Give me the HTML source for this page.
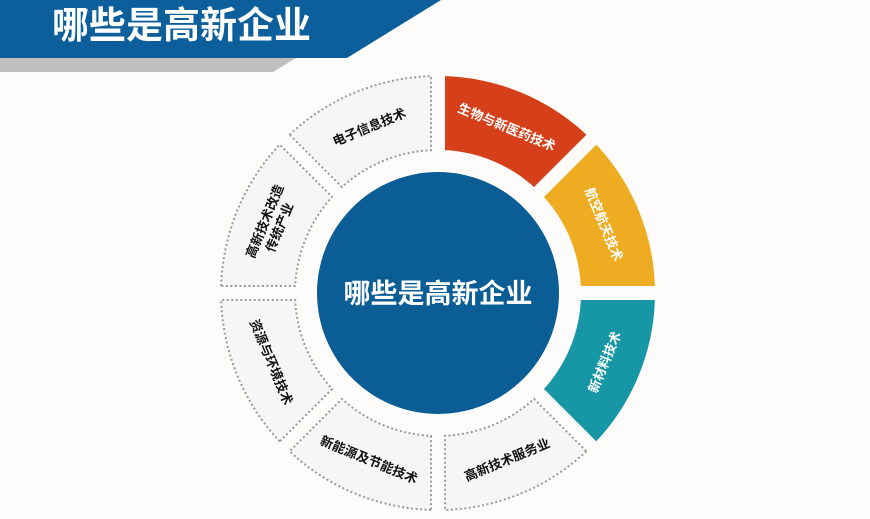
<!DOCTYPE html>
<html><head><meta charset="utf-8"><style>
html,body{margin:0;padding:0;background:#fdfcfb;}
svg{display:block;font-family:"Liberation Sans","Noto Sans CJK SC",sans-serif;}
</style></head><body>
<svg id="s" width="870" height="519" viewBox="0 0 870 519">
<rect width="870" height="519" fill="#fdfcfb"/>
<polygon points="0,58 296,58 273,72 0,72" fill="#bfbfbf"/>
<polygon points="0,0 441,0 347,58 0,58" fill="#0d5f9b"/>
<text x="52" y="38" fill="#fff" font-size="37" font-weight="bold">哪些是高新企业</text>
<circle cx="438" cy="293" r="121" fill="#0b5d96"/>
<text x="438" y="303" fill="#fff" font-size="27" font-weight="bold" text-anchor="middle">哪些是高新企业</text>
<g id="segs"></g>
</svg>
<script>
var cx=438,cy=293,ro=217,ri=143,g=7;
var segs=[
 ["电子信息技术","#f6f6f6",0],
 ["生物与新医药技术","#d5401a",1],
 ["航空航天技术","#eeac22",1],
 ["新材料技术","#1797a6",1],
 ["高新技术服务业","#f6f6f6",0],
 ["新能源及节能技术","#f6f6f6",0],
 ["资源与环境技术","#f6f6f6",0],
 ["高新技术改造|传统产业","#f6f6f6",0]
];
var starts=[-45,0,45,90,135,180,225,270];
function pt(r,a){a=a*Math.PI/180;return [cx+r*Math.sin(a),cy-r*Math.cos(a)];}
var out="";
segs.forEach(function(s,i){
 var a1=starts[i],a2=a1+45;
 var dO=Math.asin(g/ro)*180/Math.PI,dI=Math.asin(g/ri)*180/Math.PI;
 var p1=pt(ro,a1+dO),p2=pt(ro,a2-dO),p3=pt(ri,a2-dI),p4=pt(ri,a1+dI);
 var d="M"+p1+" A"+ro+","+ro+" 0 0 1 "+p2+" L"+p3+" A"+ri+","+ri+" 0 0 0 "+p4+" Z";
 if(s[2]) out+='<path d="'+d+'" fill="'+s[1]+'"/>';
 else out+='<path d="'+d+'" fill="'+s[1]+'" stroke="#9a9a9a" stroke-width="2" stroke-dasharray="2,2.5"/>';
 var m=a1+22.5, c=pt(180,m), rot=m;
 if(m>90&&m<270) rot=m-180;
 var col=s[2]?"#fff":"#111";
 var lines=s[0].split("|");
 var t='<g transform="translate('+c[0]+','+c[1]+') rotate('+rot+')">';
 lines.forEach(function(l,j){
  var y=5+(j-(lines.length-1)/2)*16;
  t+='<text x="0" y="'+y+'" fill="'+col+'" font-size="13" font-weight="bold" text-anchor="middle">'+l+'</text>';
 });
 out+=t+'</g>';
});
document.getElementById("segs").innerHTML=out;
</script>
</body></html>
